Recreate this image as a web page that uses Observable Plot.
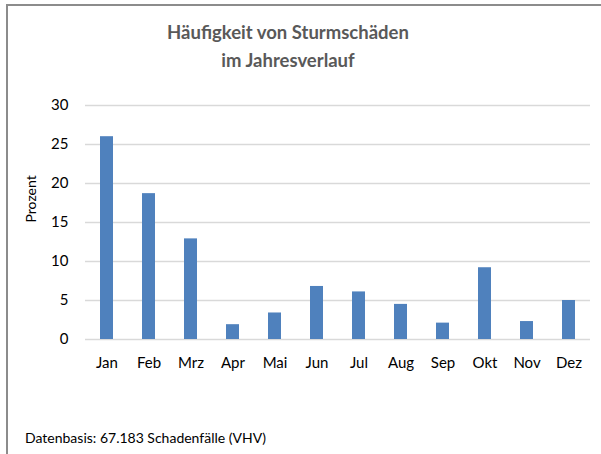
<!DOCTYPE html>
<html>
<head>
<meta charset="utf-8">
<script src="https://cdn.jsdelivr.net/npm/d3@7"></script>
<script src="https://cdn.jsdelivr.net/npm/@observablehq/plot@0.6"></script>
<style>
  html, body { margin: 0; padding: 0; background: #fff; }
  body { width: 601px; height: 454px; position: relative; overflow: hidden; font-family: Lato, "Open Sans", sans-serif; }
  #frame { position: absolute; left: 6px; top: 4px; width: 620px; height: 470px; border-top: 2px solid #8c8c8c; border-left: 2px solid #8c8c8c; box-sizing: border-box; }
  #title { position: absolute; left: 88px; width: 400px; top: 18px; text-align: center; color: #595959; font-weight: bold; font-size: 18.5px; line-height: 28px; }
  #caption { position: absolute; left: 25px; top: 429px; color: #000; font-size: 14px; }
  #chart { position: absolute; left: 0; top: 0; }
</style>
</head>
<body>
<div id="frame"></div>
<div id="chart"></div>
<div id="title">Häufigkeit von Sturmschäden<br>im Jahresverlauf</div>
<div id="caption">Datenbasis: 67.183 Schadenfälle (VHV)</div>
<script>
const months = ["Jan", "Feb", "Mrz", "Apr", "Mai", "Jun", "Jul", "Aug", "Sep", "Okt", "Nov", "Dez"];
const values = [26.0, 18.7, 12.9, 1.9, 3.4, 6.8, 6.1, 4.5, 2.1, 9.2, 2.3, 5.0];
const yTicks = [0, 5, 10, 15, 20, 25, 30];
const yLabel = "Prozent";

const data = months.map((m, i) => ({month: m, value: values[i]}));

const chart = Plot.plot({
  width: 601,
  height: 454,
  marginLeft: 85,
  marginRight: 11,
  marginTop: 105,
  marginBottom: 115,
  style: {fontFamily: "Lato, 'Open Sans', sans-serif", fontSize: "15px", color: "#000", background: "transparent"},
  x: {domain: months, paddingInner: 0.69, paddingOuter: 0.345, align: 0.5},
  y: {domain: [0, 30]},
  marks: [
    Plot.ruleY(yTicks, {stroke: "#d9d9d9", strokeWidth: 1.5}),
    Plot.barY(data, {x: "month", y: "value", fill: "#4f81bd"}),
    Plot.axisY({ticks: yTicks, tickSize: 0, tickPadding: 17, label: null, fontSize: 15}),
    Plot.axisX({tickSize: 0, tickPadding: 18, label: null, fontSize: 15}),
    Plot.text([yLabel], {frameAnchor: "left", dx: -54, rotate: -90, fontSize: 14, text: d => d})
  ]
});
document.getElementById("chart").appendChild(chart);
</script>
</body>
</html>
